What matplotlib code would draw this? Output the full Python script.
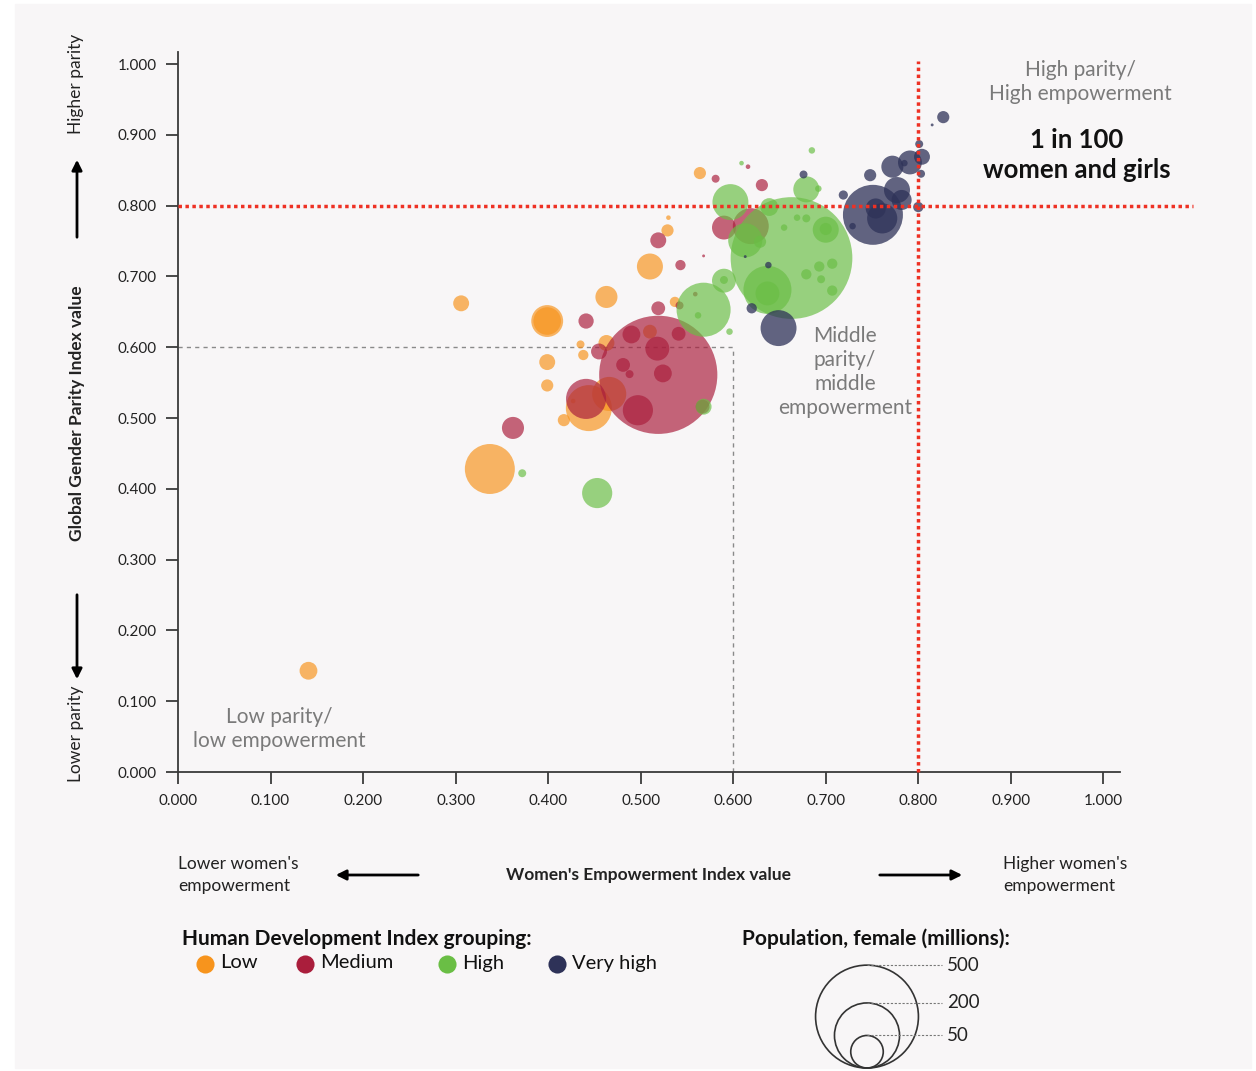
import numpy as np
import matplotlib
matplotlib.use("Agg")
from matplotlib import pyplot as plt
from matplotlib.patches import Circle, Rectangle

plt.rcParams['font.family'] = ['Lato', 'DejaVu Sans']

# Women's Empowerment Index (x), Global Gender Parity Index (y), female population (millions)
low_x = [0.141, 0.306, 0.399, 0.399, 0.399, 0.399, 0.337, 0.444, 0.466, 0.417, 0.435, 0.438,
         0.463, 0.463, 0.510, 0.510, 0.537, 0.529, 0.530, 0.564, 0.427]
low_y = [0.143, 0.662, 0.637, 0.637, 0.579, 0.546, 0.428, 0.514, 0.534, 0.497, 0.604, 0.589,
         0.606, 0.671, 0.714, 0.622, 0.664, 0.765, 0.783, 0.846, 0.524]
low_pop = [15, 12, 48, 36, 12, 7, 118, 100, 55, 7, 3, 5, 12, 23, 32, 9, 5, 7, 1, 7, 1]

med_x = [0.362, 0.441, 0.441, 0.455, 0.519, 0.490, 0.518, 0.481, 0.524, 0.488, 0.497, 0.541,
         0.519, 0.542, 0.559, 0.543, 0.519, 0.568, 0.590, 0.619, 0.631, 0.581, 0.616, 0.567]
med_y = [0.486, 0.527, 0.637, 0.594, 0.561, 0.618, 0.598, 0.575, 0.563, 0.562, 0.511, 0.619,
         0.655, 0.659, 0.675, 0.716, 0.751, 0.729, 0.769, 0.771, 0.829, 0.838, 0.855, 0.516]
med_pop = [23, 76, 11, 12, 660, 15, 27, 9, 15, 3, 43, 9,
           9, 3, 1, 5, 12, 0.4, 27, 61, 7, 3, 1, 9]

high_x = [0.453, 0.372, 0.568, 0.562, 0.596, 0.568, 0.590, 0.590, 0.663, 0.637, 0.637, 0.613,
          0.629, 0.597, 0.639, 0.679, 0.692, 0.685, 0.609, 0.700, 0.700, 0.679, 0.669, 0.655,
          0.679, 0.693, 0.707, 0.695, 0.707]
high_y = [0.394, 0.422, 0.653, 0.645, 0.622, 0.516, 0.694, 0.695, 0.726, 0.681, 0.676, 0.751,
          0.749, 0.805, 0.798, 0.823, 0.824, 0.878, 0.860, 0.766, 0.767, 0.782, 0.783, 0.769,
          0.703, 0.714, 0.718, 0.696, 0.680]
high_pop = [43, 3, 138, 2, 2, 12, 27, 3, 700, 109, 27, 55,
            7, 61, 15, 32, 2, 2, 1, 32, 7, 3, 2, 2,
            5, 5, 5, 3, 5]

vhigh_x = [0.827, 0.815, 0.801, 0.804, 0.791, 0.772, 0.785, 0.803, 0.748, 0.676, 0.777, 0.782,
           0.719, 0.751, 0.761, 0.754, 0.729, 0.800, 0.649, 0.620, 0.613, 0.638]
vhigh_y = [0.925, 0.914, 0.887, 0.869, 0.861, 0.855, 0.860, 0.845, 0.843, 0.844, 0.822, 0.808,
           0.815, 0.787, 0.782, 0.796, 0.771, 0.798, 0.627, 0.655, 0.728, 0.716]
vhigh_pop = [7, 0.4, 3, 12, 27, 23, 2, 3, 7, 3, 32, 19,
             4, 170, 43, 19, 2, 5, 61, 5, 0.4, 2]

groups = ["Low", "Medium", "High", "Very high"]
colors = ["#f7941d", "#aa1e3c", "#6abe45", "#2e3258"]
size_legend = [500, 200, 50]
ticks = [0.0, 0.1, 0.2, 0.3, 0.4, 0.5, 0.6, 0.7, 0.8, 0.9, 1.0]

W, H = 1256, 1071
R_PX = 2.3  # bubble radius in px per sqrt(million)
S_SCALE = (2 * R_PX * 0.72) ** 2  # scatter area (pt^2) per million

fig = plt.figure(figsize=(W / 100, H / 100), dpi=100, facecolor="white")

# overlay axes in pixel coordinates for background, notes, arrows and legends
ov = fig.add_axes([0, 0, 1, 1], zorder=0)
ov.set_xlim(0, W)
ov.set_ylim(H, 0)
ov.axis("off")
ov.add_patch(Rectangle((15, 4), 1236, 1064, color="#f8f6f7", zorder=0))

ax = fig.add_axes([178 / W, 1 - 772 / H, 942 / W, 720 / H], zorder=1)
ax.patch.set_alpha(0)

data = [(low_x, low_y, low_pop), (med_x, med_y, med_pop),
        (high_x, high_y, high_pop), (vhigh_x, vhigh_y, vhigh_pop)]
alphas = [0.68, 0.68, 0.68, 0.75]
for (gx, gy, gp), c, a in zip(data, colors, alphas):
    ax.scatter(gx, gy, s=np.array(gp) * S_SCALE, color=c, alpha=a, linewidths=0, zorder=3)

ax.set_xlim(0, 1.018)
ax.set_ylim(0, 1.017)
ax.set_xticks(ticks)
ax.set_yticks(ticks)
ax.set_xticklabels(["{:.3f}".format(t) for t in ticks])
ax.set_yticklabels(["{:.3f}".format(t) for t in ticks])
for s in ["top", "right"]:
    ax.spines[s].set_visible(False)
for s in ["left", "bottom"]:
    ax.spines[s].set_color("#3a3a3a")
    ax.spines[s].set_linewidth(1.3)
ax.tick_params(direction="out", length=8.5, width=1.3, color="#3a3a3a",
               labelsize=11, labelcolor="#222222", pad=7)

# quadrant lines
red = "#ee3124"
ax.plot([0, 1.097], [0.8, 0.8], color=red, lw=2.5, ls=(0, (1.0, 1.0)), clip_on=False, zorder=4)
ax.plot([0.8, 0.8], [0, 1.004], color=red, lw=2.5, ls=(0, (1.0, 1.0)), clip_on=False, zorder=4)
ax.plot([0, 0.6], [0.6, 0.6], color="#8a8a8a", lw=1, ls=(0, (3, 3)), zorder=2)
ax.plot([0.6, 0.6], [0, 0.6], color="#8a8a8a", lw=1, ls=(0, (3, 3)), zorder=2)

# quadrant notes
gray = "#7a7a7a"
ov.text(1080, 82, "High parity/\nHigh empowerment", ha="center", va="center",
        fontsize=15, color=gray, linespacing=1.3)
ov.text(1077, 155, "1 in 100\nwomen and girls", ha="center", va="center",
        fontsize=18.5, color="#111111", fontweight="bold", linespacing=1.27)
ov.text(845, 372, "Middle\nparity/\nmiddle\nempowerment", ha="center", va="center",
        fontsize=15, color=gray, linespacing=1.27)
ov.text(279, 729, "Low parity/\nlow empowerment", ha="center", va="center",
        fontsize=15, color=gray, linespacing=1.23)

# y axis labels and arrows
ov.text(77, 413, "Global Gender Parity Index value", rotation=90, ha="center", va="center",
        fontsize=12.5, fontweight="bold", color="#222222")
ov.text(76, 84, "Higher parity", rotation=90, ha="center", va="center", fontsize=12.5, color="#222222")
ov.text(76, 734, "Lower parity", rotation=90, ha="center", va="center", fontsize=12.5, color="#222222")
arrow = dict(arrowstyle="-|>,head_length=0.6,head_width=0.3", color="black", lw=2)
ov.annotate("", xy=(77, 157), xytext=(77, 240), arrowprops=arrow)
ov.annotate("", xy=(77, 682), xytext=(77, 592), arrowprops=arrow)

# x axis labels and arrows
ov.text(648, 875, "Women's Empowerment Index value", ha="center", va="center",
        fontsize=12.5, fontweight="bold", color="#222222")
ov.text(178, 875, "Lower women's\nempowerment", ha="left", va="center",
        fontsize=12.5, color="#222222", linespacing=1.45)
ov.text(1003, 875, "Higher women's\nempowerment", ha="left", va="center",
        fontsize=12.5, color="#222222", linespacing=1.45)
ov.annotate("", xy=(333, 875), xytext=(421, 875), arrowprops=arrow)
ov.annotate("", xy=(965, 875), xytext=(877, 875), arrowprops=arrow)

# colour legend
ov.text(182, 939, "Human Development Index grouping:", ha="left", va="center",
        fontsize=15, fontweight="bold", color="#111111")
leg_x = [205, 305, 447, 557]
for g, c, lx in zip(groups, colors, leg_x):
    ov.scatter([lx], [964], s=170, color=c, linewidths=0)
    ov.text(lx + 15, 963, g, ha="left", va="center", fontsize=14.5, color="#111111")

# size legend
ov.text(742, 939, "Population, female (millions):", ha="left", va="center",
        fontsize=15, fontweight="bold", color="#111111")
cx, base = 867, 1068
for p in size_legend:
    r = R_PX * np.sqrt(p)
    ov.add_patch(Circle((cx, base - r), r, fill=False, ec="#333333", lw=1.2))
    ov.plot([cx, 942], [base - 2 * r, base - 2 * r], color="#777777", lw=0.8, ls=(0, (2, 1.5)))
    ov.text(947, base - 2 * r, str(p), ha="left", va="center", fontsize=13.5, color="#222222")

fig.savefig("out.png", dpi=100, facecolor="white")
